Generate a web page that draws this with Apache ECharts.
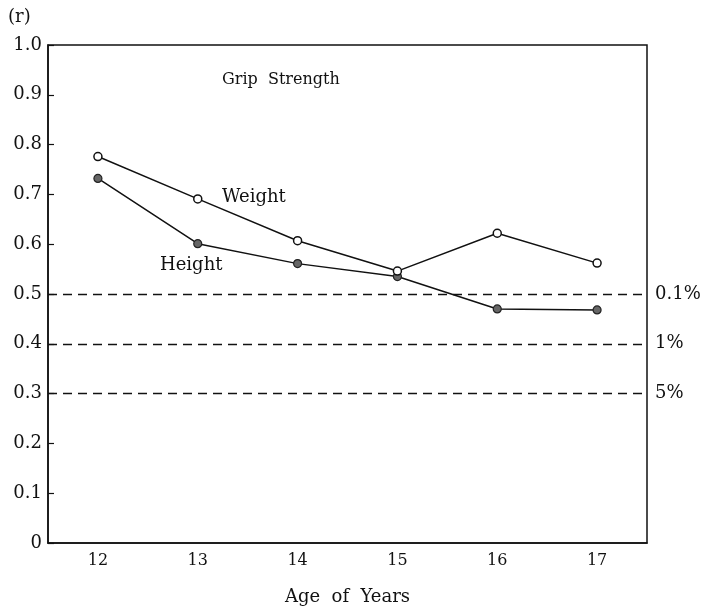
<!DOCTYPE html>
<html><head><meta charset="utf-8">
<script src="https://cdn.jsdelivr.net/npm/echarts@6/dist/echarts.min.js"></script>
<style>html,body{margin:0;padding:0;background:#fff}#c{width:710px;height:609px}</style>
</head><body><div id="c"></div>
<script>
const categories = ['12','13','14','15','16','17'];
const weight = [0.776, 0.691, 0.607, 0.546, 0.622, 0.562];
const height = [0.732, 0.601, 0.561, 0.535, 0.470, 0.468];
const sigLevels = [0.5, 0.4, 0.3];
const sigLabels = ['0.1%', '1%', '5%'];

const F = '"DejaVu Serif","Liberation Serif",serif';
const chart = echarts.init(document.getElementById('c'));
chart.setOption({
  animation: false,
  grid: {left: 48, right: 63, top: 45, height: 498, outerBoundsMode: 'none', containLabel: false,
    show: true, borderColor: '#111', borderWidth: 1.5},
  xAxis: {
    type: 'category', data: categories, boundaryGap: true,
    axisLine: {lineStyle: {color: '#111', width: 1.5}},
    axisTick: {inside: true, alignWithLabel: true, length: 7, lineStyle: {color: '#111', width: 1.2}},
    axisLabel: {color: '#111', fontFamily: F, fontSize: 16, margin: 10},
    name: 'Age  of  Years', nameLocation: 'middle', nameGap: 45,
    nameTextStyle: {color: '#111', fontFamily: F, fontSize: 18}
  },
  yAxis: {
    type: 'value', min: 0, max: 1.0, interval: 0.1,
    splitLine: {show: false},
    axisLine: {show: true, lineStyle: {color: '#111', width: 1.5}},
    axisTick: {show: true, inside: true, length: 6, lineStyle: {color: '#111', width: 1.2}},
    axisLabel: {color: '#111', fontFamily: F, fontSize: 18, margin: 6,
      formatter: v => v === 0 ? '0' : v.toFixed(1)}
  },
  graphic: [
    {type: 'text', left: 8, top: 8, style: {text: '(r)', font: '18px ' + F, fill: '#111'}},
    {type: 'text', left: 222, top: 72, style: {text: 'Grip  Strength', font: '16px ' + F, fill: '#111'}},
    {type: 'text', left: 222, top: 188, style: {text: 'Weight', font: '18px ' + F, fill: '#111'}},
    {type: 'text', left: 160, top: 256, style: {text: 'Height', font: '18px ' + F, fill: '#111'}}
  ],
  series: [
    {
      name: 'Weight', type: 'line', data: weight,
      symbol: 'circle', symbolSize: 8,
      lineStyle: {color: '#111', width: 1.5},
      itemStyle: {color: '#fff', borderColor: '#111', borderWidth: 1.5},
      markLine: {
        silent: true, symbol: ['none', 'none'],
        lineStyle: {color: '#111', type: [9, 6], width: 1.3},
        label: {show: true, position: 'end', distance: 8, color: '#111', fontFamily: F, fontSize: 18,
          formatter: p => sigLabels[sigLevels.indexOf(p.value)]},
        data: sigLevels.map(v => ({yAxis: v}))
      },
      z: 3
    },
    {
      name: 'Height', type: 'line', data: height,
      symbol: 'circle', symbolSize: 8,
      lineStyle: {color: '#111', width: 1.5},
      itemStyle: {color: '#666', borderColor: '#222', borderWidth: 1.2},
      z: 2
    }
  ]
});
</script></body></html>
